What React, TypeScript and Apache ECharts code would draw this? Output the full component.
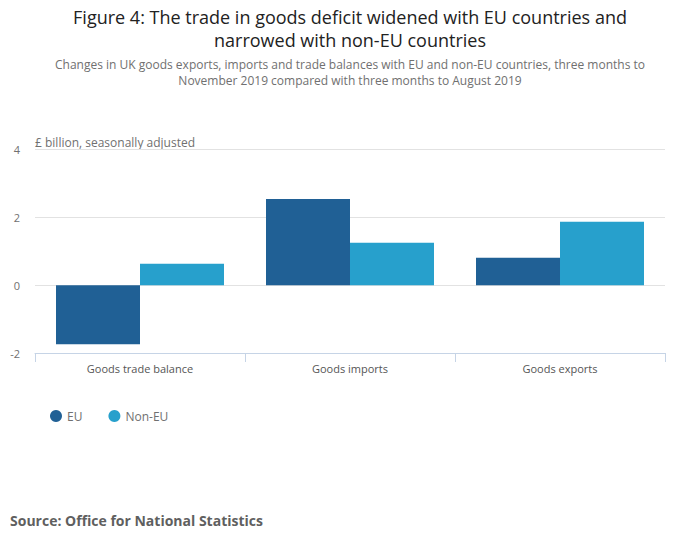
import React, { useEffect, useRef } from "react";
import * as echarts from "echarts";

const categories = ["Goods trade balance", "Goods imports", "Goods exports"];
const euValues = [-1.74, 2.54, 0.81];
const nonEuValues = [0.63, 1.25, 1.87];
const yTicks = { min: -2, max: 4, interval: 2 };

const titleLines = [
  "Figure 4: The trade in goods deficit widened with EU countries and",
  "narrowed with non-EU countries",
];
const subtitleLines = [
  "Changes in UK goods exports, imports and trade balances with EU and non-EU countries, three months to",
  "November 2019 compared with three months to August 2019",
];

const FONT = "'Open Sans', 'Noto Sans', sans-serif";

export default function App() {
  const ref = useRef<HTMLDivElement>(null);
  useEffect(() => {
    if (!ref.current) return;
    const chart = echarts.init(ref.current, null, { renderer: "svg" });
    const titleTexts = titleLines.map((t, i) => ({
      type: "text",
      x: 350,
      y: 16.5 + i * 23,
      style: {
        text: t,
        fontSize: 18,
        lineHeight: 19,
        fill: "#222222",
        fontFamily: FONT,
        align: "center",
        verticalAlign: "middle",
      },
    }));
    const subTexts = subtitleLines.map((t, i) => ({
      type: "text",
      x: 350,
      y: 64 + i * 16,
      style: {
        text: t,
        fontSize: 12,
        lineHeight: 14,
        fill: "#707070",
        fontFamily: FONT,
        align: "center",
        verticalAlign: "middle",
      },
    }));
    chart.setOption({
      animation: false,
      backgroundColor: "#ffffff",
      textStyle: { fontFamily: FONT },
      legend: {
        left: 45,
        top: 405,
        icon: "circle",
        itemWidth: 12,
        itemHeight: 12,
        itemGap: 26,
        textStyle: { fontSize: 12, color: "#707070", fontFamily: FONT },
        data: ["EU", "Non-EU"],
      },
      graphic: [
        ...titleTexts,
        ...subTexts,
        {
          type: "text",
          left: 35,
          top: 136,
          style: { text: "£ billion, seasonally adjusted", fontSize: 12, fill: "#707070", fontFamily: FONT },
        },
        {
          type: "text",
          left: 10,
          top: 513,
          style: { text: "Source: Office for National Statistics", fontSize: 14, fontWeight: "bold", fill: "#5f5f5f", fontFamily: FONT },
        },
      ],
      grid: { left: 35, right: 35, top: 149.5, bottom: 196, containLabel: false },
      xAxis: {
        type: "category",
        data: categories,
        axisLine: { show: true, onZero: false, lineStyle: { color: "#c6d4e6", width: 1 } },
        axisTick: { show: true, length: 9, lineStyle: { color: "#c6d4e6" } },
        axisLabel: { color: "#555555", fontSize: 11, margin: 10, fontFamily: FONT },
        splitLine: { show: false },
      },
      yAxis: {
        type: "value",
        min: yTicks.min,
        max: yTicks.max,
        interval: yTicks.interval,
        axisLine: { show: false },
        axisTick: { show: false },
        axisLabel: {
          color: "#707070",
          fontSize: 11,
          margin: 15,
          fontFamily: FONT,
          formatter: (v: number) => String(v),
        },
        splitLine: {
          show: true,
          lineStyle: { color: "#e2e2e2", width: 1 },
          showMinLine: false,
        },
      },
      series: [
        {
          name: "EU",
          type: "bar",
          data: euValues,
          itemStyle: { color: "#206095" },
          barGap: "0%",
          barCategoryGap: "20%",
        },
        {
          name: "Non-EU",
          type: "bar",
          data: nonEuValues,
          itemStyle: { color: "#27a0cc" },
          barGap: "0%",
          barCategoryGap: "20%",
        },
      ],
    });
    return () => chart.dispose();
  }, []);
  return <div ref={ref} style={{ width: 700, height: 549, position: "absolute", left: 0, top: 0 }} />;
}
